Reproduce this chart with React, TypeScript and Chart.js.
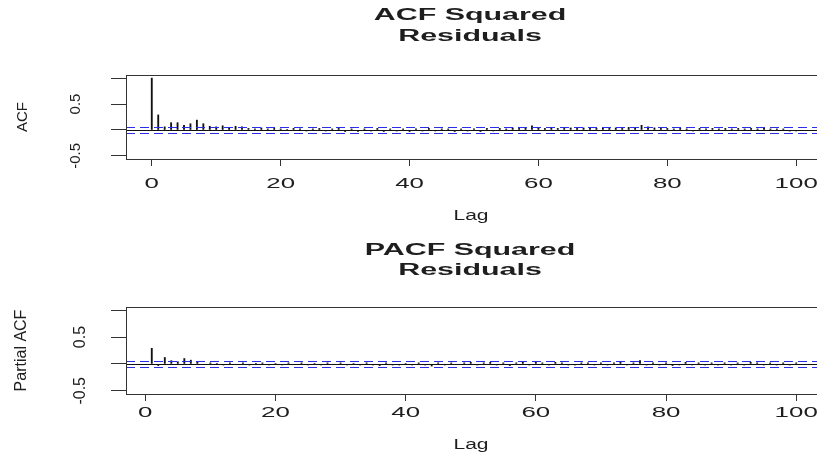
import React, { useEffect, useRef } from 'react';
import { Chart, registerables } from 'chart.js';

Chart.register(...registerables);

// ---------- data ----------
const ACF_VALUES = [
  1.0, 0.29, 0.06, 0.14, 0.14, 0.09, 0.12, 0.19, 0.12, 0.07,
  0.06, 0.08, 0.05, 0.07, 0.06, 0.03, 0.02, 0.04, 0.02, 0.03,
  0.02, 0.01, 0.03, 0.02, -0.02, 0.02, 0.03, -0.02, 0.02, 0.03,
  -0.03, 0.02, -0.03, 0.02, -0.02, 0.03, -0.03, 0.02, -0.02, 0.02,
  -0.03, 0.02, -0.02, 0.03, -0.02, 0.02, 0.02, -0.03, 0.02, -0.02,
  0.02, -0.03, 0.03, -0.02, 0.03, 0.02, 0.04, 0.03, 0.05, 0.08,
  0.04, 0.03, 0.04, 0.03, 0.03, 0.04, 0.03, 0.04, 0.03, 0.03,
  0.04, 0.03, 0.04, 0.03, 0.05, 0.04, 0.09, 0.06, 0.04, 0.03,
  0.03, 0.02, 0.03, 0.02, -0.02, 0.03, 0.02, 0.03, 0.02, 0.03,
  0.02, 0.03, 0.02, 0.03, 0.02, 0.03, 0.02, 0.02, 0.02, -0.02,
  -0.02,
];
const ACF_LAGS = ACF_VALUES.map((_, i) => i);

const PACF_VALUES = [
  0.29, -0.03, 0.12, 0.06, 0.04, 0.1, 0.07, 0.03, -0.01, 0.02,
  0.01, -0.02, 0.02, -0.01, 0.02, -0.02, 0.01, 0.02, -0.02, 0.01,
  -0.02, 0.02, -0.01, 0.02, -0.02, 0.01, -0.02, 0.02, -0.01, 0.02,
  -0.02, 0.01, -0.02, 0.02, -0.02, -0.03, 0.02, -0.02, -0.02, 0.01,
  -0.02, 0.02, -0.02, -0.04, 0.02, -0.02, 0.02, -0.01, 0.02, 0.03,
  -0.02, 0.02, 0.03, -0.02, 0.02, -0.03, 0.02, 0.03, -0.02, 0.03,
  0.02, -0.02, 0.03, 0.02, -0.02, -0.02, 0.02, 0.02, -0.02, 0.02,
  -0.02, 0.02, 0.03, -0.02, 0.02, 0.06, -0.02, 0.02, -0.02, 0.02,
  -0.03, -0.02, 0.03, -0.02, 0.02, -0.02, 0.02, -0.02, 0.02, -0.02,
  0.02, -0.02, 0.03, 0.02, -0.02, 0.02, -0.02, 0.02, -0.02, 0.02,
];
const PACF_LAGS = PACF_VALUES.map((_, i) => i + 1);

const CONF_LIMIT = 0.05;
const X_TICKS = [0, 20, 40, 60, 80, 100];
const Y_TICKS = [-0.5, 0, 0.5, 1];
const Y_TICK_LABELS = ['-0.5', '', '0.5', ''];
const Y_MIN = -0.56;
const Y_MAX = 1.06;

// ---------- layout ----------
const W = 830;
const H = 229;
const AREA_LEFT = 126;
const AREA_RIGHT = 822;
const FONT = '"Liberation Sans", Arial, sans-serif';
const INK = '#1e1e1e';
const AXIS = '#333';
const CI_COLOR = 'rgb(45,45,225)';
const SX = 1.85;

type Panel = {
  lags: number[];
  values: number[];
  xMin: number;
  xMax: number;
  title: string[];
  titleY: number[];
  yLabel: string;
  yLabelFont: number;
  yLabelX: number;
  yTickFont: number;
  yTickX: number;
  areaTop: number;
  areaHeight: number;
  top: number;
};

const PANELS: Panel[] = [
  {
    lags: ACF_LAGS, values: ACF_VALUES, xMin: -4, xMax: 104,
    title: ['ACF Squared', 'Residuals'], titleY: [16, 36.5],
    yLabel: 'ACF', yLabelFont: 15, yLabelX: 23,
    yTickFont: 15, yTickX: 76,
    areaTop: 75, areaHeight: 84, top: 0,
  },
  {
    lags: PACF_LAGS, values: PACF_VALUES, xMin: -2.96, xMax: 103.96,
    title: ['PACF Squared', 'Residuals'], titleY: [22, 42],
    yLabel: 'Partial ACF', yLabelFont: 16, yLabelX: 22,
    yTickFont: 16, yTickX: 81,
    areaTop: 78, areaHeight: 87, top: 229,
  },
];

function hText(ctx: CanvasRenderingContext2D, t: string, cx: number, cy: number, font: string, sx: number) {
  ctx.save();
  ctx.translate(cx, cy);
  ctx.scale(sx, 1);
  ctx.font = font;
  ctx.fillStyle = INK;
  ctx.textAlign = 'center';
  ctx.textBaseline = 'middle';
  ctx.fillText(t, 0, 0);
  ctx.restore();
}

function vText(ctx: CanvasRenderingContext2D, t: string, cx: number, cy: number, font: string) {
  ctx.save();
  ctx.translate(cx, cy);
  ctx.rotate(-Math.PI / 2);
  ctx.font = font;
  ctx.fillStyle = INK;
  ctx.textAlign = 'center';
  ctx.textBaseline = 'middle';
  ctx.fillText(t, 0, 0);
  ctx.restore();
}

function makePlugin(p: Panel) {
  return {
    id: 'rstyle',
    afterDatasetsDraw(chart: any) {
      const { ctx, chartArea: a, scales } = chart;
      const ys = scales.y;
      ctx.save();
      ctx.beginPath();
      ctx.rect(a.left, a.top, a.right - a.left, a.bottom - a.top);
      ctx.clip();
      const hline = (v: number) => {
        const yy = Math.round(ys.getPixelForValue(v)) + 0.5;
        ctx.beginPath();
        ctx.moveTo(a.left, yy);
        ctx.lineTo(a.right, yy);
        ctx.stroke();
      };
      ctx.lineWidth = 1;
      ctx.strokeStyle = '#111';
      hline(0);
      ctx.setLineDash([9, 5]);
      ctx.strokeStyle = CI_COLOR;
      hline(CONF_LIMIT);
      hline(-CONF_LIMIT);
      ctx.restore();
    },
    afterDraw(chart: any) {
      const { ctx, chartArea: a, scales } = chart;
      const xs = scales.x;
      const ys = scales.y;
      ctx.save();
      ctx.strokeStyle = AXIS;
      ctx.lineWidth = 1;
      ctx.strokeRect(Math.round(a.left) + 0.5, Math.round(a.top) + 0.5, a.right - a.left, a.bottom - a.top);
      ctx.restore();
      // titles
      p.title.forEach((t, i) => hText(ctx, t, 470, p.titleY[i], `bold 16px ${FONT}`, 1.9));
      // x tick labels
      X_TICKS.forEach((v) => hText(ctx, String(v), xs.getPixelForValue(v), 184, `14px ${FONT}`, SX));
      hText(ctx, 'Lag', 471, 216, `14px ${FONT}`, 1.5);
      // y tick labels
      Y_TICKS.forEach((v, i) => {
        if (Y_TICK_LABELS[i]) vText(ctx, Y_TICK_LABELS[i], p.yTickX, ys.getPixelForValue(v), `${p.yTickFont}px ${FONT}`);
      });
      vText(ctx, p.yLabel, p.yLabelX, (a.top + a.bottom) / 2, `${p.yLabelFont}px ${FONT}`);
    },
  };
}

function PanelChart({ p }: { p: Panel }) {
  const ref = useRef<HTMLCanvasElement>(null);
  useEffect(() => {
    if (!ref.current) return;
    const chart = new Chart(ref.current, {
      type: 'bar',
      data: {
        datasets: [
          {
            data: p.lags.map((l, i) => ({ x: l, y: p.values[i] })),
            backgroundColor: '#111',
            borderWidth: 0,
            barThickness: 1.2,
          } as any,
        ],
      },
      options: {
        responsive: false,
        animation: false,
        devicePixelRatio: 1,
        layout: { padding: { top: p.areaTop, left: 0, right: W - AREA_RIGHT, bottom: 0 } },
        plugins: { legend: { display: false }, title: { display: false }, tooltip: { enabled: false } },
        scales: {
          x: {
            type: 'linear',
            min: p.xMin,
            max: p.xMax,
            offset: false,
            afterBuildTicks: (s: any) => { s.ticks = X_TICKS.map((v) => ({ value: v })); },
            afterFit: (s: any) => { s.height = H - p.areaTop - p.areaHeight; },
            ticks: { display: false },
            grid: { display: true, drawOnChartArea: false, drawTicks: true, tickLength: 7, color: AXIS, lineWidth: 1, offset: false },
            border: { display: true, color: AXIS, width: 1 },
          },
          y: {
            type: 'linear',
            min: Y_MIN,
            max: Y_MAX,
            afterBuildTicks: (s: any) => { s.ticks = Y_TICKS.map((v) => ({ value: v })); },
            afterFit: (s: any) => { s.width = AREA_LEFT; },
            ticks: { display: false },
            grid: { display: true, drawOnChartArea: false, drawTicks: true, tickLength: 15, color: AXIS, lineWidth: 1 },
            border: { display: true, color: AXIS, width: 1 },
          },
        },
      } as any,
      plugins: [makePlugin(p)],
    });
    return () => chart.destroy();
  }, [p]);
  return (
    <div style={{ position: 'absolute', left: 0, top: p.top, width: W, height: H }}>
      <canvas ref={ref} width={W} height={H} style={{ display: 'block' }} />
    </div>
  );
}

export default function App() {
  return (
    <div style={{ position: 'fixed', left: 0, top: 0, width: 817, height: 458, overflow: 'hidden', background: '#fff' }}>
      {PANELS.map((p, i) => (
        <PanelChart key={i} p={p} />
      ))}
    </div>
  );
}
